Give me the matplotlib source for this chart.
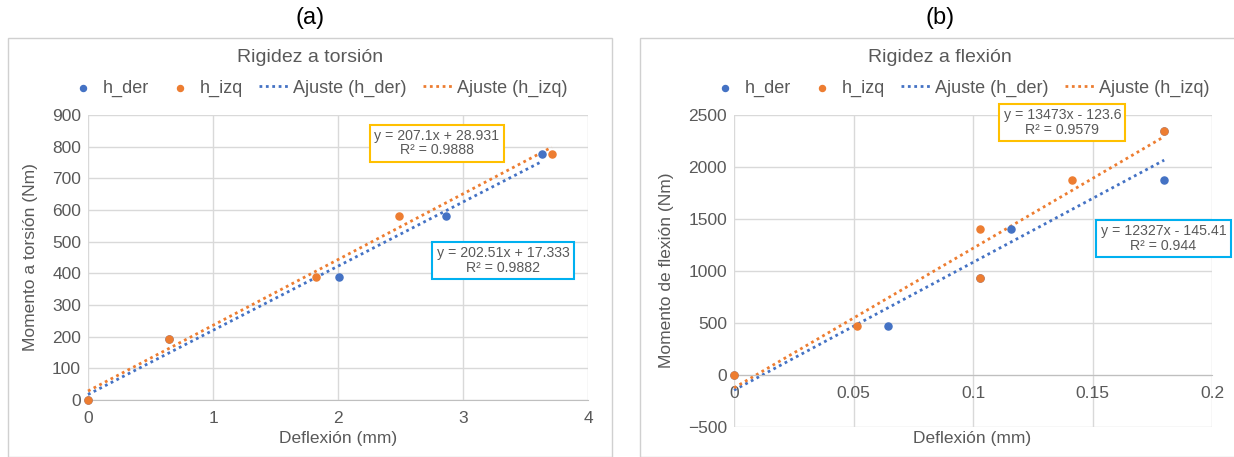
import numpy as np
import matplotlib.pyplot as plt
from matplotlib.patches import Rectangle

plt.rcParams['font.family'] = ['Liberation Sans', 'DejaVu Sans']

# (a) torsion data
tors_der_x = [0, 0.65, 2.01, 2.86, 3.63]
tors_der_y = [0, 194, 388, 582, 777]
tors_izq_x = [0, 0.65, 1.82, 2.49, 3.71]
tors_izq_y = [0, 194, 388, 582, 777]

# (b) bending data
flex_der_x = [0, 0.0644, 0.103, 0.1158, 0.18, 0.18]
flex_der_y = [0, 469, 937, 1406, 1874, 2343]
flex_izq_x = [0, 0.0515, 0.103, 0.103, 0.1415, 0.18]
flex_izq_y = [0, 469, 1406, 937, 1874, 2343]

legend_labels = ['h_der', 'h_izq', 'Ajuste (h_der)', 'Ajuste (h_izq)']
tors_eq_izq = 'y = 207.1x + 28.931\nR² = 0.9888'
tors_eq_der = 'y = 202.51x + 17.333\nR² = 0.9882'
flex_eq_izq = 'y = 13473x - 123.6\nR² = 0.9579'
flex_eq_der = 'y = 12327x - 145.41\nR² = 0.944'

BLUE = '#4472C4'
ORANGE = '#ED7D31'
TXT = '#595959'
GRID = '#D9D9D9'

fig = plt.figure(figsize=(12.34, 4.57), dpi=100)
W, H = 1234, 457


def fx(px):
    return px / W


def fy(py):
    return 1 - py / H


# chart area frames
fig.add_artist(Rectangle((fx(8), fy(457)), fx(604), fy(38) - fy(457),
                         transform=fig.transFigure, fill=False, ec='#D0D0D0', lw=1))
fig.add_artist(Rectangle((fx(640), fy(457)), fx(600), fy(38) - fy(457),
                         transform=fig.transFigure, fill=False, ec='#D0D0D0', lw=1))


def panel(rect, dx, dy, ix, iy, xlim, ylim, xt, xtl, yt, title, ylabel,
          eqs, title_x, leg_x, xlab_x, ylab_pos):
    ax = fig.add_axes(rect)
    ax.set_xlim(xlim)
    ax.set_ylim(ylim)
    ax.set_xticks(xt)
    ax.set_xticklabels(xtl)
    ax.set_yticks(yt)
    ax.grid(True, color=GRID, lw=1)
    ax.set_axisbelow(True)
    for s in ['top', 'right', 'left']:
        ax.spines[s].set_visible(False)
    ax.spines['bottom'].set_position(('data', 0))
    ax.spines['bottom'].set_color('#BFBFBF')
    ax.tick_params(length=0, labelsize=12.5, colors=TXT)
    ax.tick_params(axis='x', pad=8)
    ax.tick_params(axis='y', pad=5)

    h1 = ax.scatter(dx, dy, s=26, color=BLUE, zorder=3, clip_on=False)
    h2 = ax.scatter(ix, iy, s=26, color=ORANGE, zorder=4, clip_on=False)
    lines = []
    for x, y, c in [(dx, dy, BLUE), (ix, iy, ORANGE)]:
        p = np.polyfit(x, y, 1)
        xx = np.array([min(x), max(x)])
        l, = ax.plot(xx, np.polyval(p, xx), color=c, lw=2,
                     ls=(0, (1, 1.3)), zorder=2, clip_on=False)
        lines.append(l)

    for txt, x, y, ec in eqs:
        ax.text(x, y, txt, ha='center', va='center', multialignment='center',
                fontsize=10.2, color=TXT, zorder=5, linespacing=1.05,
                bbox=dict(boxstyle='square,pad=0.3', fc='white', ec=ec, lw=1.5))

    fig.text(fx(title_x), fy(57), title, ha='center', va='center',
             fontsize=14, color=TXT)
    fig.legend([h1, h2, lines[0], lines[1]], legend_labels, ncol=4,
               loc='center', bbox_to_anchor=(fx(leg_x), fy(88)), frameon=False,
               fontsize=13, labelcolor=TXT, handlelength=1.6,
               handletextpad=0.3, columnspacing=0.9, markerscale=0.85)
    fig.text(fx(xlab_x), fy(438), 'Deflexión (mm)', ha='center', va='center',
             fontsize=12.5, color=TXT)
    fig.text(fx(ylab_pos[0]), fy(ylab_pos[1]), ylabel, ha='center', va='center',
             rotation=90, fontsize=12.5, color=TXT)
    return ax


panel([fx(88), fy(400), fx(500), fy(115) - fy(400)],
      tors_der_x, tors_der_y, tors_izq_x, tors_izq_y,
      (0, 4), (0, 900), [0, 1, 2, 3, 4], ['0', '1', '2', '3', '4'],
      range(0, 901, 100), 'Rigidez a torsión', 'Momento a torsión (Nm)',
      [(tors_eq_izq, 2.79, 811, '#FFC000'), (tors_eq_der, 3.32, 441, '#00B0F0')],
      310, 318, 338, (31, 257))

panel([fx(734), fy(427), fx(478), fy(115) - fy(427)],
      flex_der_x, flex_der_y, flex_izq_x, flex_izq_y,
      (0, 0.2), (-500, 2500), [0, 0.05, 0.1, 0.15, 0.2],
      ['0', '0.05', '0.1', '0.15', '0.2'],
      range(-500, 2501, 500), 'Rigidez a flexión', 'Momento de flexión (Nm)',
      [(flex_eq_izq, 0.1374, 2426, '#FFC000'), (flex_eq_der, 0.1797, 1311, '#00B0F0')],
      940, 960, 972, (666, 270))

fig.text(fx(310), fy(18), '(a)', ha='center', va='center', fontsize=17, color='black')
fig.text(fx(940), fy(18), '(b)', ha='center', va='center', fontsize=17, color='black')

fig.savefig('out.png', dpi=100, facecolor='white')
